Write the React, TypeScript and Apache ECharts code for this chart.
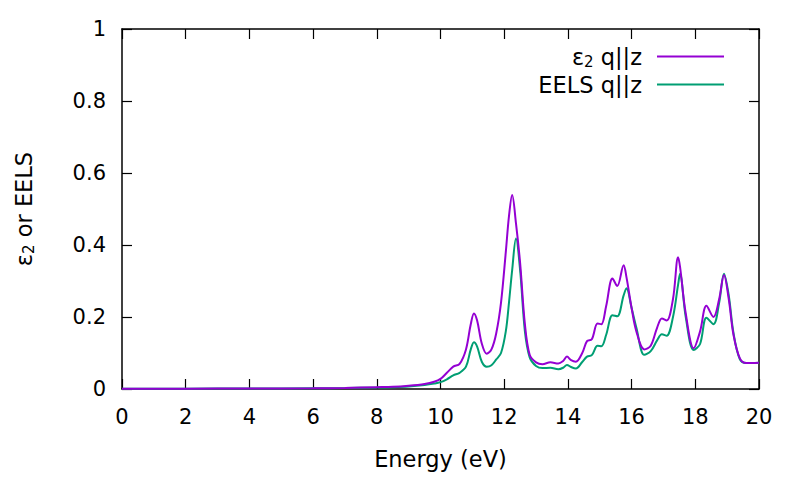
import React, { useEffect, useRef } from 'react';
import * as echarts from 'echarts';

// energy grid (eV)
const energy = [
  0, 2, 4, 6, 7, 8, 8.5, 9, 9.5, 9.8, 10.0, 10.2, 10.4, 10.6, 10.8, 10.95, 11.05, 11.15, 11.3, 11.45,
  11.6, 11.75, 11.9, 12.05, 12.15, 12.25, 12.37, 12.5, 12.65, 12.8, 13.0, 13.2, 13.45, 13.7, 13.85, 13.97,
  14.1, 14.25, 14.45, 14.6, 14.75, 14.93, 15.05, 15.2, 15.4, 15.55, 15.75, 15.84, 16.0, 16.15, 16.4, 16.6,
  16.8, 16.95, 17.1, 17.3, 17.46, 17.52, 17.7, 17.95, 18.15, 18.35, 18.57, 18.75, 18.9, 19.05, 19.2, 19.4,
  19.6, 20.0,
];

const eps2 = [
  0.001, 0.001, 0.0015, 0.002, 0.003, 0.005, 0.006, 0.009, 0.014, 0.02, 0.028, 0.045, 0.062, 0.07, 0.11, 0.18, 0.21, 0.19, 0.125, 0.098,
  0.11, 0.155, 0.24, 0.38, 0.48, 0.539, 0.46, 0.35, 0.18, 0.095, 0.074, 0.069, 0.074, 0.071, 0.078, 0.09,
  0.08, 0.076, 0.1, 0.133, 0.138, 0.182, 0.18, 0.23, 0.307, 0.286, 0.344, 0.31, 0.225, 0.16, 0.11, 0.12,
  0.17, 0.196, 0.19, 0.25, 0.366, 0.34, 0.21, 0.113, 0.16, 0.231, 0.2, 0.25, 0.317, 0.25, 0.15, 0.085,
  0.072, 0.073,
];

const eels = [
  0.001, 0.001, 0.0012, 0.0018, 0.0025, 0.004, 0.005, 0.007, 0.011, 0.015, 0.019, 0.027, 0.038, 0.045, 0.062, 0.11, 0.13, 0.118, 0.075, 0.062,
  0.066, 0.082, 0.1, 0.16, 0.24, 0.33, 0.418, 0.33, 0.16, 0.088, 0.064, 0.058, 0.059, 0.055, 0.059, 0.067,
  0.061, 0.057, 0.075, 0.09, 0.094, 0.12, 0.119, 0.15, 0.205, 0.202, 0.26, 0.28, 0.225, 0.17, 0.095, 0.105,
  0.135, 0.152, 0.148, 0.2, 0.29, 0.32, 0.2, 0.108, 0.125, 0.198, 0.18, 0.24, 0.32, 0.26, 0.155, 0.082,
  0.072, 0.073,
];

const seriesNames = ['eps2', 'EELS q||z'];
const FONT = 'DejaVu Sans, Liberation Sans, sans-serif';
const FS = 22.5; // names and legend
const TICK_FS = 21;

const App: React.FC = () => {
  const chartRef = useRef<HTMLDivElement>(null);

  useEffect(() => {
    if (!chartRef.current) return;
    const chart = echarts.init(chartRef.current, undefined, { renderer: 'svg' });

    const tickCommon = {
      axisLine: { show: true, onZero: false, lineStyle: { color: '#000', width: 1.5 } },
      axisTick: { show: true, inside: true, length: 10, lineStyle: { color: '#000', width: 1.2 } },
      splitLine: { show: false },
    };

    const richSub = {
      a: { fontFamily: FONT, fontSize: FS, color: '#000' },
      s: { fontFamily: FONT, fontSize: 15, color: '#000', padding: [10, 0, 0, 0] },
    };

    const option = {
      animation: false,
      backgroundColor: '#fff',
      textStyle: { fontFamily: FONT },
      grid: { left: 122, right: 41, top: 29, bottom: 91 },
      legend: {
        orient: 'vertical',
        align: 'right',
        right: 71,
        top: 40,
        itemGap: 4,
        itemWidth: 67,
        itemHeight: 2,
        icon: 'rect',
        selectedMode: false,
        data: seriesNames,
        formatter: (name: string) => (name === 'eps2' ? '{a|ε}{s|2}{a| q||z}' : '{a|EELS q||z}'),
        textStyle: {
          fontFamily: FONT,
          fontSize: FS,
          color: '#000',
          padding: [0, 10, 0, 0],
          rich: richSub,
        },
      },
      xAxis: [
        {
          type: 'value',
          min: 0,
          max: 20,
          interval: 2,
          name: 'Energy (eV)',
          nameLocation: 'middle',
          nameGap: 58,
          nameTextStyle: { fontFamily: FONT, fontSize: FS, color: '#000' },
          axisLabel: { fontFamily: FONT, fontSize: TICK_FS, color: '#000', margin: 17 },
          ...tickCommon,
        },
        {
          type: 'value',
          position: 'top',
          min: 0,
          max: 20,
          interval: 2,
          axisLabel: { show: false },
          ...tickCommon,
        },
      ],
      yAxis: [
        {
          type: 'value',
          min: 0,
          max: 1,
          interval: 0.2,
          name: '{a|ε}{s|2}{a| or EELS}',
          nameLocation: 'middle',
          nameGap: 86,
          nameTextStyle: { fontFamily: FONT, fontSize: FS, color: '#000', rich: richSub },
          axisLabel: {
            fontFamily: FONT,
            fontSize: TICK_FS,
            color: '#000',
            margin: 16,
            formatter: (v: number) => String(Math.round(v * 10) / 10),
          },
          ...tickCommon,
        },
        {
          type: 'value',
          position: 'right',
          min: 0,
          max: 1,
          interval: 0.2,
          axisLabel: { show: false },
          ...tickCommon,
        },
      ],
      series: [
        {
          name: seriesNames[0],
          type: 'line',
          data: energy.map((e, i) => [e, eps2[i]]),
          smooth: 0.35,
          showSymbol: false,
          symbol: 'none',
          lineStyle: { color: '#9400d3', width: 2 },
          itemStyle: { color: '#9400d3' },
          xAxisIndex: 0,
          yAxisIndex: 0,
          z: 3,
        },
        {
          name: seriesNames[1],
          type: 'line',
          data: energy.map((e, i) => [e, eels[i]]),
          smooth: 0.35,
          showSymbol: false,
          symbol: 'none',
          lineStyle: { color: '#009e73', width: 2 },
          itemStyle: { color: '#009e73' },
          xAxisIndex: 0,
          yAxisIndex: 0,
          z: 2,
        },
      ],
    };

    chart.setOption(option);
    return () => {
      chart.dispose();
    };
  }, []);

  return <div ref={chartRef} style={{ width: 800, height: 480, margin: -8 }} />;
};

export default App;
